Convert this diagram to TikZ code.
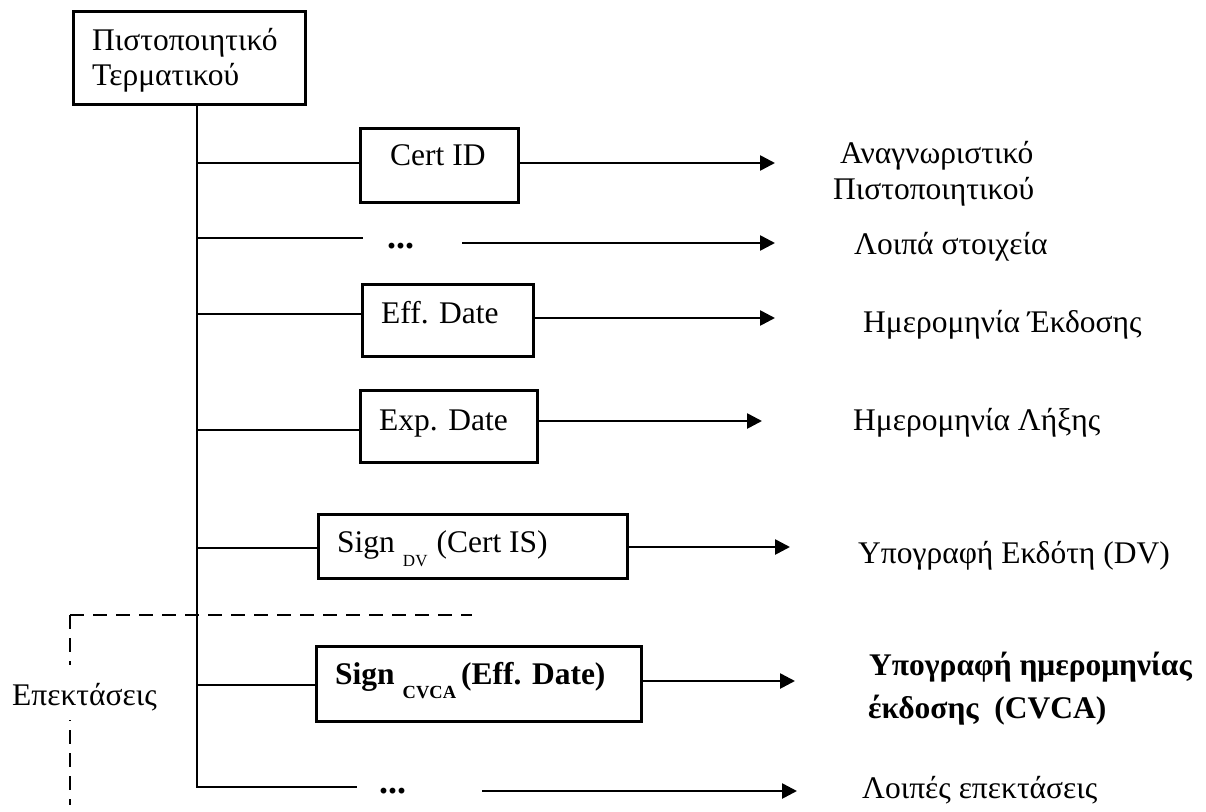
\documentclass[tikz,border=0pt]{standalone}
\usepackage{fontspec}
\setmainfont{Liberation Serif}
\usetikzlibrary{arrows.meta}

\tikzset{
  ln/.style={line width=2.6pt},
  arr/.style={line width=2.6pt, -{Triangle[length=15pt,width=15pt]}},
  dsh/.style={line width=2.6pt, dash pattern=on 14pt off 9pt},
  box/.style={draw, line width=2.6pt, inner sep=0pt, anchor=north west},
  txt/.style={inner sep=0pt, anchor=base west, font=\fontsize{31.5}{36}\selectfont},
  btxt/.style={txt, font=\fontsize{31.5}{36}\selectfont\bfseries},
  dots/.style={inner sep=0pt, anchor=base west, font=\fontsize{36}{40}\selectfont\bfseries}
}
\newcommand{\lowsub}[2]{\raisebox{-14pt}{\fontsize{#1}{#1}\selectfont #2}}

\begin{document}
\begin{tikzpicture}[x=1pt, y=-1pt]
\useasboundingbox (0,0) rectangle (1206,811);

% root certificate box
\node[box, minimum width=232pt, minimum height=93pt] (root) at (72,10) {};
\node[txt] (rootA) at (92,50) {Πιστοποιητικό};
\node[txt] (rootB) at (92,85) {Τερματικού};

% trunk
\coordinate (tend) at (197,788);
\draw[ln] (root.south -| tend) -- (tend);

% field boxes
\node[box, minimum width=158pt, minimum height=74pt] (cid) at (359,127) {};
\node[txt] (cidt) at (390,165) {Cert ID};

\node[box, minimum width=171pt, minimum height=72pt] (eff) at (361,283) {};
\node[txt] (efft) at (381,323) {Eff. Date};

\node[box, minimum width=177pt, minimum height=72pt] (exp) at (359,389) {};
\node[txt] (expt) at (379,430) {Exp. Date};

\node[box, minimum width=309pt, minimum height=64pt] (sdv) at (317,513) {};
\node[txt] (sdvt) at (337,552) {Sign\hspace{8pt}\lowsub{17}{DV}\hspace{9pt}(Cert IS)};

\node[box, minimum width=325pt, minimum height=75pt] (scv) at (315,645) {};
\node[btxt] (scvt) at (335,684) {Sign\hspace{8pt}\lowsub{18.5}{CVCA}\hspace{5pt}(Eff. Date)};

% ellipsis rows
\node[dots] (dA) at (387,248) {...};
\node[dots] (dB) at (379,793) {...};

% right-hand descriptions
\node[txt] (lA1) at (840,163) {Αναγνωριστικό};
\node[txt] (lA2) at (833,199) {Πιστοποιητικού};
\node[txt] (lB) at (854,254) {Λοιπά στοιχεία};
\node[txt] (lC) at (863,332) {Ημερομηνία Έκδοσης};
\node[txt] (lD) at (853,430) {Ημερομηνία Λήξης};
\node[txt] (lE) at (858,563) {Υπογραφή Εκδότη (DV)};
\node[btxt] (lF1) at (869,675) {Υπογραφή ημερομηνίας};
\node[btxt] (lF2) at (868,718) {έκδοσης\ \ (CVCA)};
\node[txt] (lG) at (862,798) {Λοιπές επεκτάσεις};

% branches from the trunk
\coordinate (j1) at (197,163);
\coordinate (j2) at (197,238);
\coordinate (j3) at (197,314);
\coordinate (j4) at (197,430);
\coordinate (j5) at (197,548);
\coordinate (j6) at (197,685);
\coordinate (j7) at (197,787);
\coordinate (k2) at (363,238);
\coordinate (k7) at (357,787);

\draw[ln] (j1) -- (j1 -| cid.west);
\draw[ln] (j2) -- (k2);
\draw[ln] (j3) -- (j3 -| eff.west);
\draw[ln] (j4) -- (j4 -| exp.west);
\draw[ln] (j5) -- (j5 -| sdv.west);
\draw[ln] (j6) -- (j6 -| scv.west);
\draw[ln] (j7) -- (k7);

% arrows to the descriptions
\coordinate (e1) at (775,163);
\coordinate (s2) at (462,243);
\coordinate (e2) at (775,243);
\coordinate (e3) at (775,318);
\coordinate (e4) at (762,421);
\coordinate (e5) at (790,547);
\coordinate (e6) at (795,681);
\coordinate (s7) at (482,791);
\coordinate (e7) at (797,791);

\draw[arr] (cid.east |- e1) -- (e1);
\draw[arr] (s2) -- (e2);
\draw[arr] (eff.east |- e3) -- (e3);
\draw[arr] (exp.east |- e4) -- (e4);
\draw[arr] (sdv.east |- e5) -- (e5);
\draw[arr] (scv.east |- e6) -- (e6);
\draw[arr] (s7) -- (e7);

% extensions bracket
\coordinate (dc) at (70,615);
\coordinate (dr) at (472,615);
\coordinate (db) at (70,805);
\draw[dsh] (dc) -- (dr);
\draw[dsh] (dc) -- (db);
\node[txt, fill=white, text height=40pt, text depth=15pt] (ext) at (12,705) {Επεκτάσεις};
\end{tikzpicture}
\end{document}
